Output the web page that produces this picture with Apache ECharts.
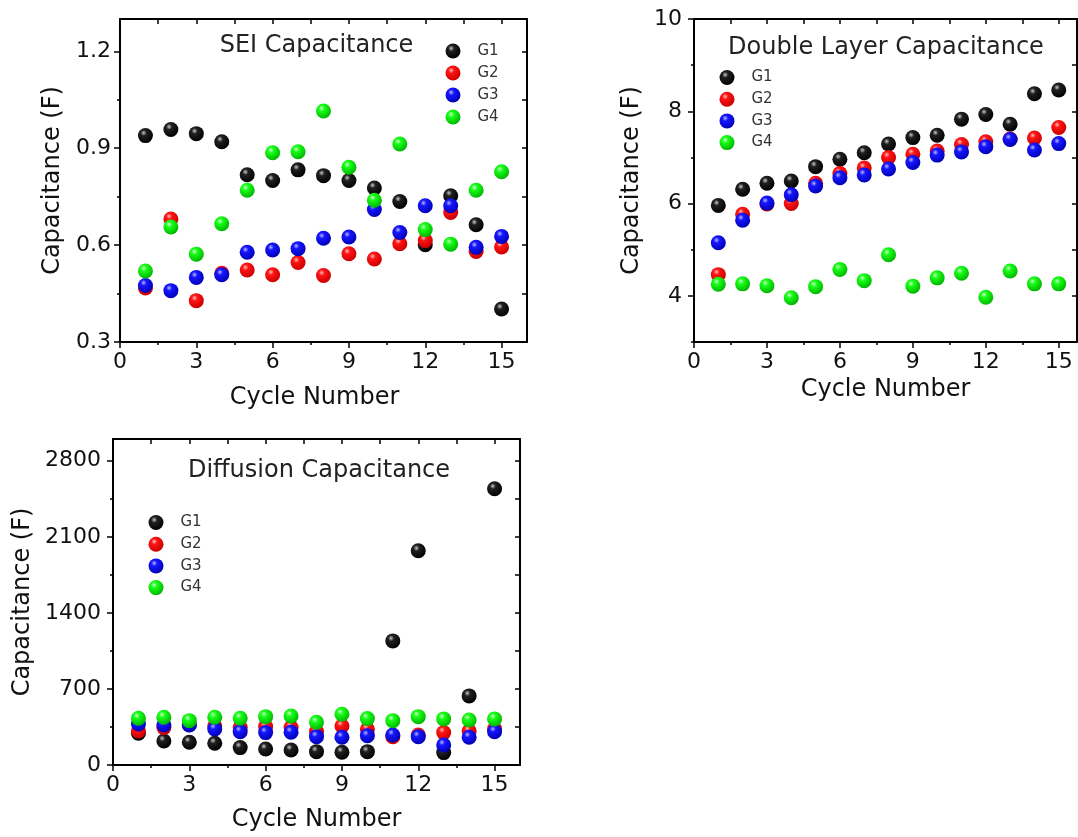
<!DOCTYPE html>
<html>
<head>
<meta charset="utf-8">
<script src="https://cdn.jsdelivr.net/npm/echarts@6/dist/echarts.min.js"></script>
<style>html,body{margin:0;padding:0;background:#fff}#c{width:1078px;height:837px}</style>
</head>
<body>
<div id="c"></div>
<script>
// ---- data ----
const cycles = [1,2,3,4,5,6,7,8,9,10,11,12,13,14,15];
const groupNames = ['G1','G2','G3','G4'];

const seiG1 = [0.939,0.958,0.945,0.920,0.818,0.800,0.833,0.815,0.800,0.777,0.735,0.601,0.753,0.663,0.402];
const seiG2 = [0.467,0.681,0.428,0.513,0.523,0.508,0.546,0.506,0.573,0.557,0.604,0.614,0.701,0.580,0.594];
const seiG3 = [0.475,0.459,0.500,0.508,0.578,0.585,0.589,0.621,0.625,0.710,0.639,0.722,0.722,0.593,0.627];
const seiG4 = [0.520,0.656,0.572,0.666,0.770,0.886,0.889,1.015,0.841,0.739,0.913,0.648,0.603,0.770,0.827];

const dlG1 = [5.96,6.31,6.44,6.49,6.80,6.96,7.10,7.29,7.43,7.48,7.83,7.93,7.72,8.38,8.46];
const dlG2 = [4.46,5.77,5.99,6.00,6.44,6.65,6.77,7.00,7.07,7.14,7.28,7.34,7.40,7.42,7.65];
const dlG3 = [5.15,5.64,6.01,6.19,6.38,6.56,6.62,6.75,6.89,7.05,7.12,7.23,7.39,7.16,7.30];
const dlG4 = [4.25,4.26,4.22,3.96,4.20,4.57,4.33,4.89,4.21,4.39,4.49,3.97,4.54,4.26,4.26];

const difG1 = [292,221,209,200,160,147,138,123,117,123,1142,1971,114,636,2542];
const difG2 = [313,344,370,359,344,353,344,307,359,329,261,276,298,313,332];
const difG3 = [378,368,368,332,307,298,301,261,255,270,276,261,184,255,307];
const difG4 = [430,439,408,439,430,445,451,393,467,427,408,445,424,414,424];

// tick values
const xMajor = [0,3,6,9,12,15];
const xMinor = [1.5,4.5,7.5,10.5,13.5];
const seiYMajor = [0.3,0.6,0.9,1.2];
const seiYMinor = [0.45,0.75,1.05];
const dlYMajor = [4,6,8,10];
const dlYMinor = [3,5,7,9];
const difYMajor = [0,700,1400,2100,2800];
const difYMinor = [350,1050,1750,2450];

const panelTitles = ['SEI Capacitance','Double Layer Capacitance','Diffusion Capacitance'];

// ---- styling ----
const FONT = '"DejaVu Sans", "Liberation Sans", Arial, sans-serif';
function ball(hi, base, dark) {
  return {type:'radial', x:0.38, y:0.32, r:0.7,
    colorStops:[{offset:0,color:hi},{offset:0.28,color:base},{offset:1,color:dark}]};
}
const ballColors = [
  ball('#c8c8c8','#202020','#000000'),
  ball('#ffc0c0','#ff1414','#c80000'),
  ball('#b8b8ff','#1616ff','#0000b4'),
  ball('#d0ffd0','#18ff18','#00b400')
];

const panels = [
  {grid:{left:120, top:19, width:407, height:323}, xMax:16, yMin:0.3, yMax:1.3,
   yMajor:seiYMajor, yMinor:seiYMinor, series:[seiG1,seiG2,seiG3,seiG4],
   yLabelMargin:9, yNameGap:55, xNameGap:44, xNamePad:[0,18,0,0]},
  {grid:{left:694, top:19, width:383, height:323}, xMax:15.75, yMin:3, yMax:10,
   yMajor:dlYMajor, yMinor:dlYMinor, series:[dlG1,dlG2,dlG3,dlG4],
   yLabelMargin:12, yNameGap:50, xNameGap:36, xNamePad:[0,0,0,0]},
  {grid:{left:113, top:439, width:407, height:326}, xMax:16, yMin:0, yMax:3000,
   yMajor:difYMajor, yMinor:difYMinor, series:[difG1,difG2,difG3,difG4],
   yLabelMargin:12, yNameGap:78, xNameGap:43, xNamePad:[0,0,0,0]}
];

const grids = [], xAxes = [], yAxes = [], series = [];
const lineStyle = {color:'#000', width:2};
const tickStyle = {color:'#000', width:1.5};
const plain = v => String(v);

panels.forEach((p, g) => {
  grids.push(Object.assign({containLabel:false, outerBoundsMode:'none'}, p.grid));
  const xi = xAxes.length, yi = yAxes.length;
  // bottom major
  xAxes.push({gridIndex:g, type:'value', min:0, max:p.xMax, position:'bottom',
    axisLine:{show:true, onZero:false, lineStyle},
    axisTick:{show:true, inside:false, length:6, customValues:xMajor, lineStyle:tickStyle},
    axisLabel:{show:true, customValues:xMajor, formatter:plain, margin:9, fontSize:22, fontFamily:FONT, color:'#111'},
    splitLine:{show:false},
    name:'Cycle Number', nameLocation:'middle', nameGap:p.xNameGap,
    nameTextStyle:{fontSize:24, fontFamily:FONT, color:'#111', padding:p.xNamePad}});
  // bottom minor
  xAxes.push({gridIndex:g, type:'value', min:0, max:p.xMax, position:'bottom',
    axisLine:{show:false, onZero:false},
    axisTick:{show:true, inside:false, length:3, customValues:xMinor, lineStyle:tickStyle},
    axisLabel:{show:false}, splitLine:{show:false}});
  // top mirror
  xAxes.push({gridIndex:g, type:'value', min:0, max:p.xMax, position:'top',
    axisLine:{show:true, onZero:false, lineStyle},
    axisTick:{show:true, inside:true, length:5, customValues:xMajor.concat(xMinor), lineStyle:tickStyle},
    axisLabel:{show:false}, splitLine:{show:false}});
  // left major
  yAxes.push({gridIndex:g, type:'value', min:p.yMin, max:p.yMax, position:'left',
    axisLine:{show:true, onZero:false, lineStyle},
    axisTick:{show:true, inside:false, length:6, customValues:p.yMajor, lineStyle:tickStyle},
    axisLabel:{show:true, customValues:p.yMajor, formatter:plain, margin:p.yLabelMargin, fontSize:22, fontFamily:FONT, color:'#111'},
    splitLine:{show:false},
    name:'Capacitance (F)', nameLocation:'middle', nameGap:p.yNameGap, nameRotate:90,
    nameTextStyle:{fontSize:24, fontFamily:FONT, color:'#111'}});
  // left minor
  yAxes.push({gridIndex:g, type:'value', min:p.yMin, max:p.yMax, position:'left',
    axisLine:{show:false, onZero:false},
    axisTick:{show:true, inside:false, length:3, customValues:p.yMinor, lineStyle:tickStyle},
    axisLabel:{show:false}, splitLine:{show:false}});
  // right mirror
  yAxes.push({gridIndex:g, type:'value', min:p.yMin, max:p.yMax, position:'right',
    axisLine:{show:true, onZero:false, lineStyle},
    axisTick:{show:true, inside:true, length:5, customValues:p.yMajor.concat(p.yMinor), lineStyle:tickStyle},
    axisLabel:{show:false}, splitLine:{show:false}});

  p.series.forEach((vals, k) => {
    series.push({type:'scatter', name:groupNames[k], xAxisIndex:xi, yAxisIndex:yi,
      symbol:'circle', symbolSize:15,
      itemStyle:{color:ballColors[k], opacity:1},
      emphasis:{disabled:true},
      data:cycles.map((c, i) => [c, vals[i]])});
  });
});

const legendBase = {data:groupNames, orient:'vertical', itemWidth:15, itemHeight:15, itemGap:7,
  icon:'circle', selectedMode:false, padding:0,
  textStyle:{fontSize:15, fontFamily:FONT, color:'#333', lineHeight:15, padding:[0,0,0,12]}};

const option = {
  backgroundColor:'#fff',
  animation:false,
  grid:grids,
  xAxis:xAxes,
  yAxis:yAxes,
  legend:[
    Object.assign({}, legendBase, {left:445.5, top:43.5}),
    Object.assign({}, legendBase, {left:719.5, top:70, itemGap:6.7}),
    Object.assign({}, legendBase, {left:148.5, top:515, itemGap:6.7})
  ],
  graphic:[
    {type:'text', x:316.5, y:45.5, style:{text:panelTitles[0], font:'24px ' + FONT, fill:'#222', align:'center', verticalAlign:'middle', textAlign:'center', textVerticalAlign:'middle'}},
    {type:'text', x:886, y:48, style:{text:panelTitles[1], font:'24px ' + FONT, fill:'#222', align:'center', verticalAlign:'middle', textAlign:'center', textVerticalAlign:'middle'}},
    {type:'text', x:319, y:471, style:{text:panelTitles[2], font:'24px ' + FONT, fill:'#222', align:'center', verticalAlign:'middle', textAlign:'center', textVerticalAlign:'middle'}}
  ],
  series:series
};

const chart = echarts.init(document.getElementById('c'), null, {renderer:'canvas'});
chart.setOption(option);
</script>
</body>
</html>
